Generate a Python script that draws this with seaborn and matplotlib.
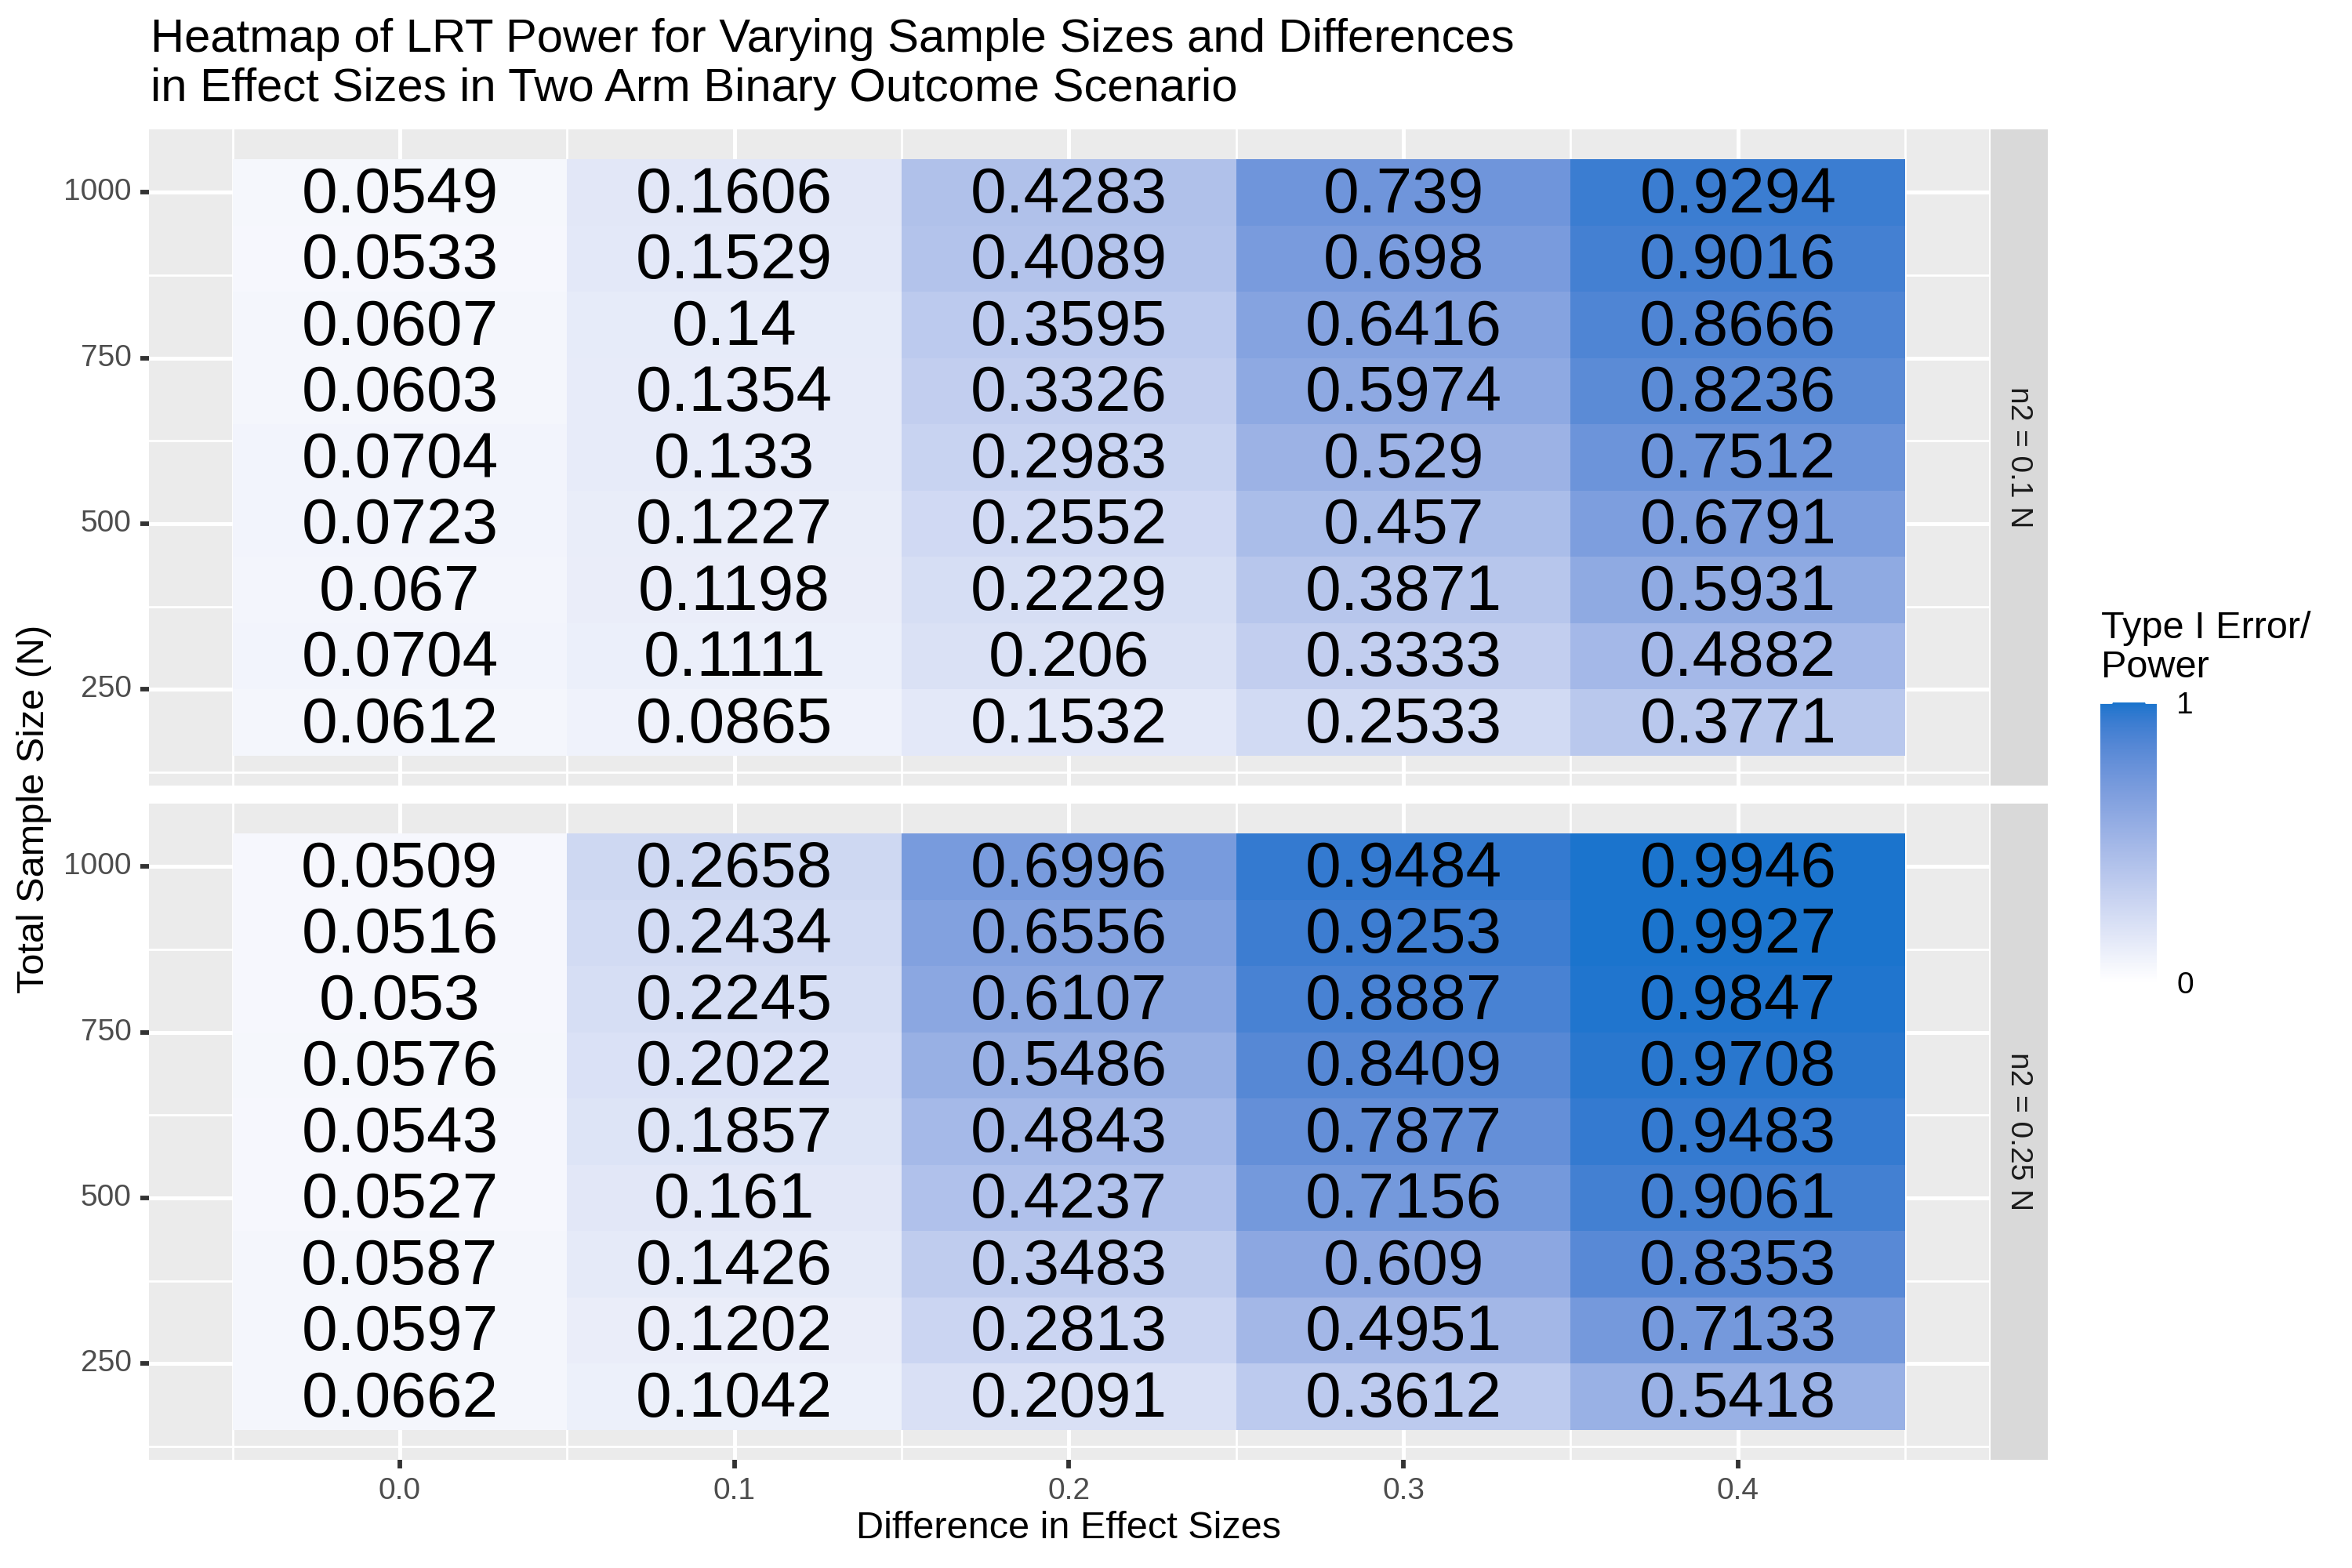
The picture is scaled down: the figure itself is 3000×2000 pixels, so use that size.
import numpy as np
import pandas as pd
import matplotlib
matplotlib.use("Agg")
import matplotlib.pyplot as plt
from matplotlib.colors import ListedColormap
import seaborn as sns

# difference in effect sizes (columns) and total sample sizes (rows, top to bottom)
diffs = [0.0, 0.1, 0.2, 0.3, 0.4]
sample_sizes = [1000, 900, 800, 700, 600, 500, 400, 300, 200]
facet_labels = ["n2 = 0.1 N", "n2 = 0.25 N"]

power_n2_010 = [
    [0.0549, 0.1606, 0.4283, 0.739, 0.9294],
    [0.0533, 0.1529, 0.4089, 0.698, 0.9016],
    [0.0607, 0.14, 0.3595, 0.6416, 0.8666],
    [0.0603, 0.1354, 0.3326, 0.5974, 0.8236],
    [0.0704, 0.133, 0.2983, 0.529, 0.7512],
    [0.0723, 0.1227, 0.2552, 0.457, 0.6791],
    [0.067, 0.1198, 0.2229, 0.3871, 0.5931],
    [0.0704, 0.1111, 0.206, 0.3333, 0.4882],
    [0.0612, 0.0865, 0.1532, 0.2533, 0.3771],
]
power_n2_025 = [
    [0.0509, 0.2658, 0.6996, 0.9484, 0.9946],
    [0.0516, 0.2434, 0.6556, 0.9253, 0.9927],
    [0.053, 0.2245, 0.6107, 0.8887, 0.9847],
    [0.0576, 0.2022, 0.5486, 0.8409, 0.9708],
    [0.0543, 0.1857, 0.4843, 0.7877, 0.9483],
    [0.0527, 0.161, 0.4237, 0.7156, 0.9061],
    [0.0587, 0.1426, 0.3483, 0.609, 0.8353],
    [0.0597, 0.1202, 0.2813, 0.4951, 0.7133],
    [0.0662, 0.1042, 0.2091, 0.3612, 0.5418],
]

# white -> dodgerblue3 gradient, interpolated in CIELAB like ggplot
M = np.array([[0.4124, 0.3576, 0.1805], [0.2126, 0.7152, 0.0722], [0.0193, 0.1192, 0.9505]])
WHITE = np.array([0.95047, 1.0, 1.08883])

def to_lab(rgb):
    c = np.asarray(rgb, float)
    c = np.where(c > 0.04045, ((c + 0.055) / 1.055) ** 2.4, c / 12.92)
    xyz = M @ c / WHITE
    f = np.where(xyz > 0.008856, np.cbrt(xyz), 7.787 * xyz + 16 / 116)
    return np.array([116 * f[1] - 16, 500 * (f[0] - f[1]), 200 * (f[1] - f[2])])

def from_lab(lab):
    L, a, b = lab
    fy = (L + 16) / 116
    f = np.array([fy + a / 500, fy, fy - b / 200])
    xyz = np.where(f ** 3 > 0.008856, f ** 3, (f - 16 / 116) / 7.787) * WHITE
    c = np.linalg.inv(M) @ xyz
    c = np.where(c > 0.0031308, 1.055 * np.clip(c, 0, None) ** (1 / 2.4) - 0.055, 12.92 * c)
    return np.clip(c, 0, 1)

lo = to_lab([1, 1, 1])
hi = to_lab([24 / 255, 116 / 255, 205 / 255])
cmap = ListedColormap([from_lab(lo + t * (hi - lo)) for t in np.linspace(0, 1, 256)])

sns.set_theme(style="darkgrid", rc={
    "axes.facecolor": "#EBEBEB",
    "grid.color": "white",
    "axes.edgecolor": "none",
    "xtick.bottom": True,
    "ytick.left": True,
})
plt.rcParams["font.family"] = ["Liberation Sans", "DejaVu Sans"]

fig = plt.figure(figsize=(15, 10), dpi=200)
ax_top = fig.add_axes([0.0633, 0.499, 0.7823, 0.4185])
ax_bot = fig.add_axes([0.0633, 0.069, 0.7823, 0.4185])
cax = fig.add_axes([0.893, 0.3735, 0.024, 0.1785])

panels = [(ax_top, power_n2_010), (ax_bot, power_n2_025)]
for i, (ax, vals) in enumerate(panels):
    df = pd.DataFrame(vals, index=sample_sizes, columns=diffs)
    sns.heatmap(df, ax=ax, cmap=cmap, vmin=0, vmax=1, annot=True, fmt="g",
                annot_kws={"color": "black", "fontsize": 29.5},
                cbar=(i == 0), cbar_ax=cax if i == 0 else None)
    # nudge the numbers so the digits sit on the row centre
    for t in ax.texts:
        x, y = t.get_position()
        t.set_position((x, y + 0.05))
    ax.set_axisbelow(True)
    ax.set_xlim(-0.25, 5.25)
    ax.set_ylim(9.45, -0.45)
    # continuous-style breaks mapped to cell coordinates
    ax.set_xticks([d / 0.1 + 0.5 for d in diffs])
    ax.set_xticks([k for k in range(6)], minor=True)
    ybreaks = [1000, 750, 500, 250]
    ax.set_yticks([(1000 - n) / 100 + 0.5 for n in ybreaks])
    ax.set_yticks([(1000 - n) / 100 + 0.5 for n in [875, 625, 375, 125]], minor=True)
    ax.set_yticklabels([str(n) for n in ybreaks], rotation=0)
    ax.set_xticklabels([f"{d:.1f}" for d in diffs], rotation=0)
    ax.grid(True, which="major", color="white", linewidth=1.8)
    ax.grid(True, which="minor", color="white", linewidth=1.0)
    ax.tick_params(which="major", length=4, width=2.1, color="#333333",
                   labelsize=14, labelcolor="#4D4D4D", pad=4)
    ax.tick_params(which="minor", length=0)
    ax.set_xlabel("")
    ax.set_ylabel("")
    for s in ax.spines.values():
        s.set_visible(False)
    # facet strip
    pos = ax.get_position()
    sax = fig.add_axes([0.8463, pos.y0, 0.0243, pos.height])
    sax.set_facecolor("#D9D9D9")
    sax.set_xticks([])
    sax.set_yticks([])
    sax.grid(False)
    sax.tick_params(length=0)
    sax.text(0.5, 0.5, facet_labels[i], rotation=-90, ha="center", va="center",
             fontsize=14, color="#1A1A1A", transform=sax.transAxes)

ax_top.tick_params(axis="x", which="both", length=0, labelbottom=False)

cbar = ax_top.collections[0].colorbar
cbar.outline.set_visible(False)
cbar.set_ticks([0, 1])
cbar.set_ticklabels(["0", "1"])
cax.tick_params(length=0, labelsize=14, labelcolor="black", pad=9)
for t in [0.0, 1.0]:
    cax.axhline(t, xmin=0, xmax=0.2, color="white", linewidth=1)
    cax.axhline(t, xmin=0.8, xmax=1, color="white", linewidth=1)

fig.text(0.8933, 1 - 874 / 2000, "Type I Error/\nPower", ha="left", va="bottom",
         fontsize=17.5, color="black", linespacing=1.15)

fig.text(0.064, 0.9885, "Heatmap of LRT Power for Varying Sample Sizes and Differences\n"
         "in Effect Sizes in Two Arm Binary Outcome Scenario",
         ha="left", va="top", fontsize=21.5, color="black", linespacing=1.18)
fig.text(0.4544, 0.0255, "Difference in Effect Sizes", ha="center", va="center",
         fontsize=17.5, color="black")
fig.text(0.0145, 0.484, "Total Sample Size (N)", ha="center", va="center",
         rotation=90, fontsize=17.5, color="black")

fig.savefig("out.png", dpi=200, facecolor="white")
